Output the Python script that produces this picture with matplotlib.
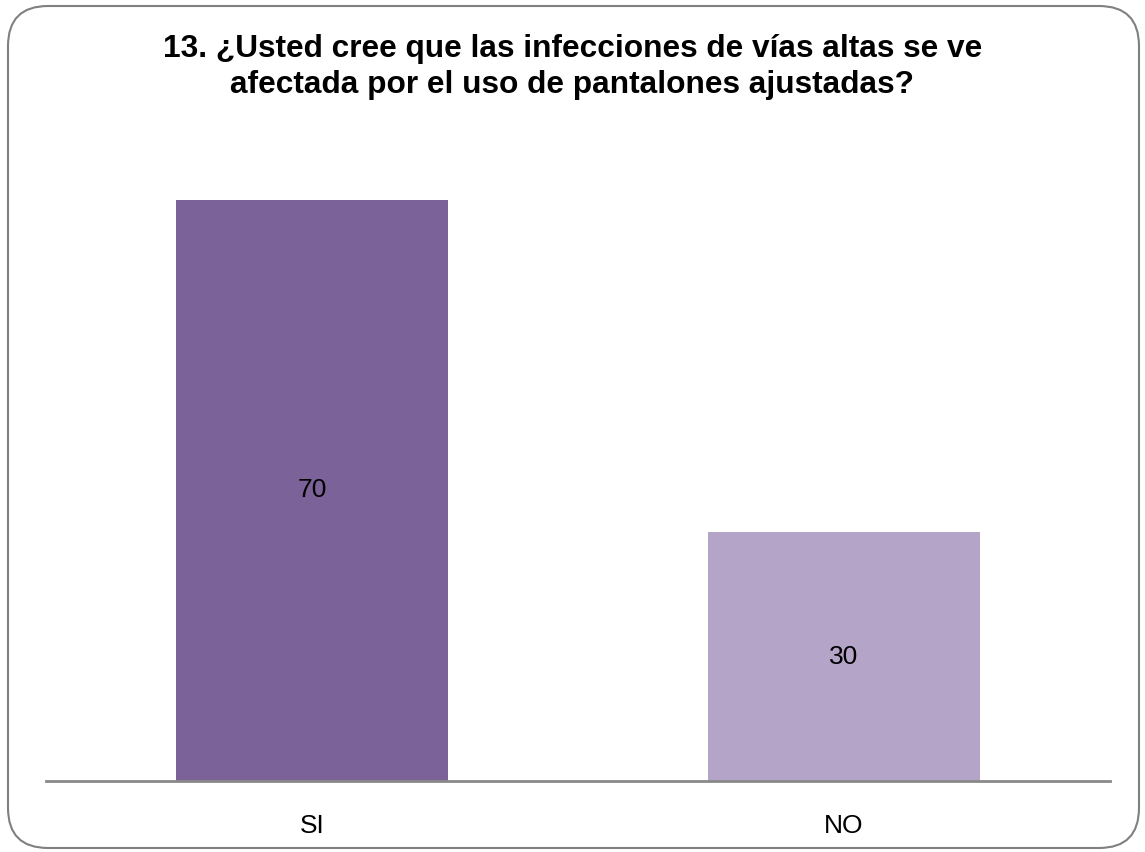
import matplotlib.pyplot as plt
from matplotlib.patches import FancyBboxPatch

# datos de la encuesta
categorias = ['SI', 'NO']
valores = [70, 30]
colores = ['#7B6299', '#B3A4C8']
titulo = '13. ¿Usted cree que las infecciones de vías altas se ve\nafectada por el uso de pantalones ajustadas?'

fig = plt.figure(figsize=(11.45, 8.52), dpi=100)

# marco redondeado alrededor del gráfico
marco = FancyBboxPatch((8 / 1145, 4 / 852), 1131 / 1145, 842 / 852,
                       boxstyle='round,pad=0,rounding_size=0.035',
                       transform=fig.transFigure, fill=False,
                       edgecolor='#808080', linewidth=1.5,
                       mutation_aspect=1145 / 852)
fig.patches.append(marco)

fig.text(0.5, 1 - 67 / 852, titulo, ha='center', va='center',
         fontsize=22.8, fontweight='bold', family=['Liberation Sans', 'DejaVu Sans'],
         linespacing=1.3)

ax = fig.add_axes([46 / 1145, 71 / 852, 1064 / 1145, 664 / 852])
x = list(range(len(categorias)))
barras = ax.bar(x, valores, width=0.51, color=colores)

fuente = ['Liberation Sans', 'DejaVu Sans']
for b, v in zip(barras, valores):
    ax.text(b.get_x() + b.get_width() / 2, v / 2, str(v), ha='center', va='center',
            fontsize=19, family=fuente, color='#000000')

ax.set_xlim(-0.5, 1.5)
ax.set_ylim(0, 80)
ax.set_xticks(x)
ax.set_xticklabels(categorias, fontsize=19, family=fuente)
ax.tick_params(axis='x', length=0, pad=24)
ax.set_yticks([])
for lado in ['top', 'right', 'left']:
    ax.spines[lado].set_visible(False)
ax.spines['bottom'].set_color('#898989')
ax.spines['bottom'].set_linewidth(2)

fig.savefig('out.png', dpi=100)
